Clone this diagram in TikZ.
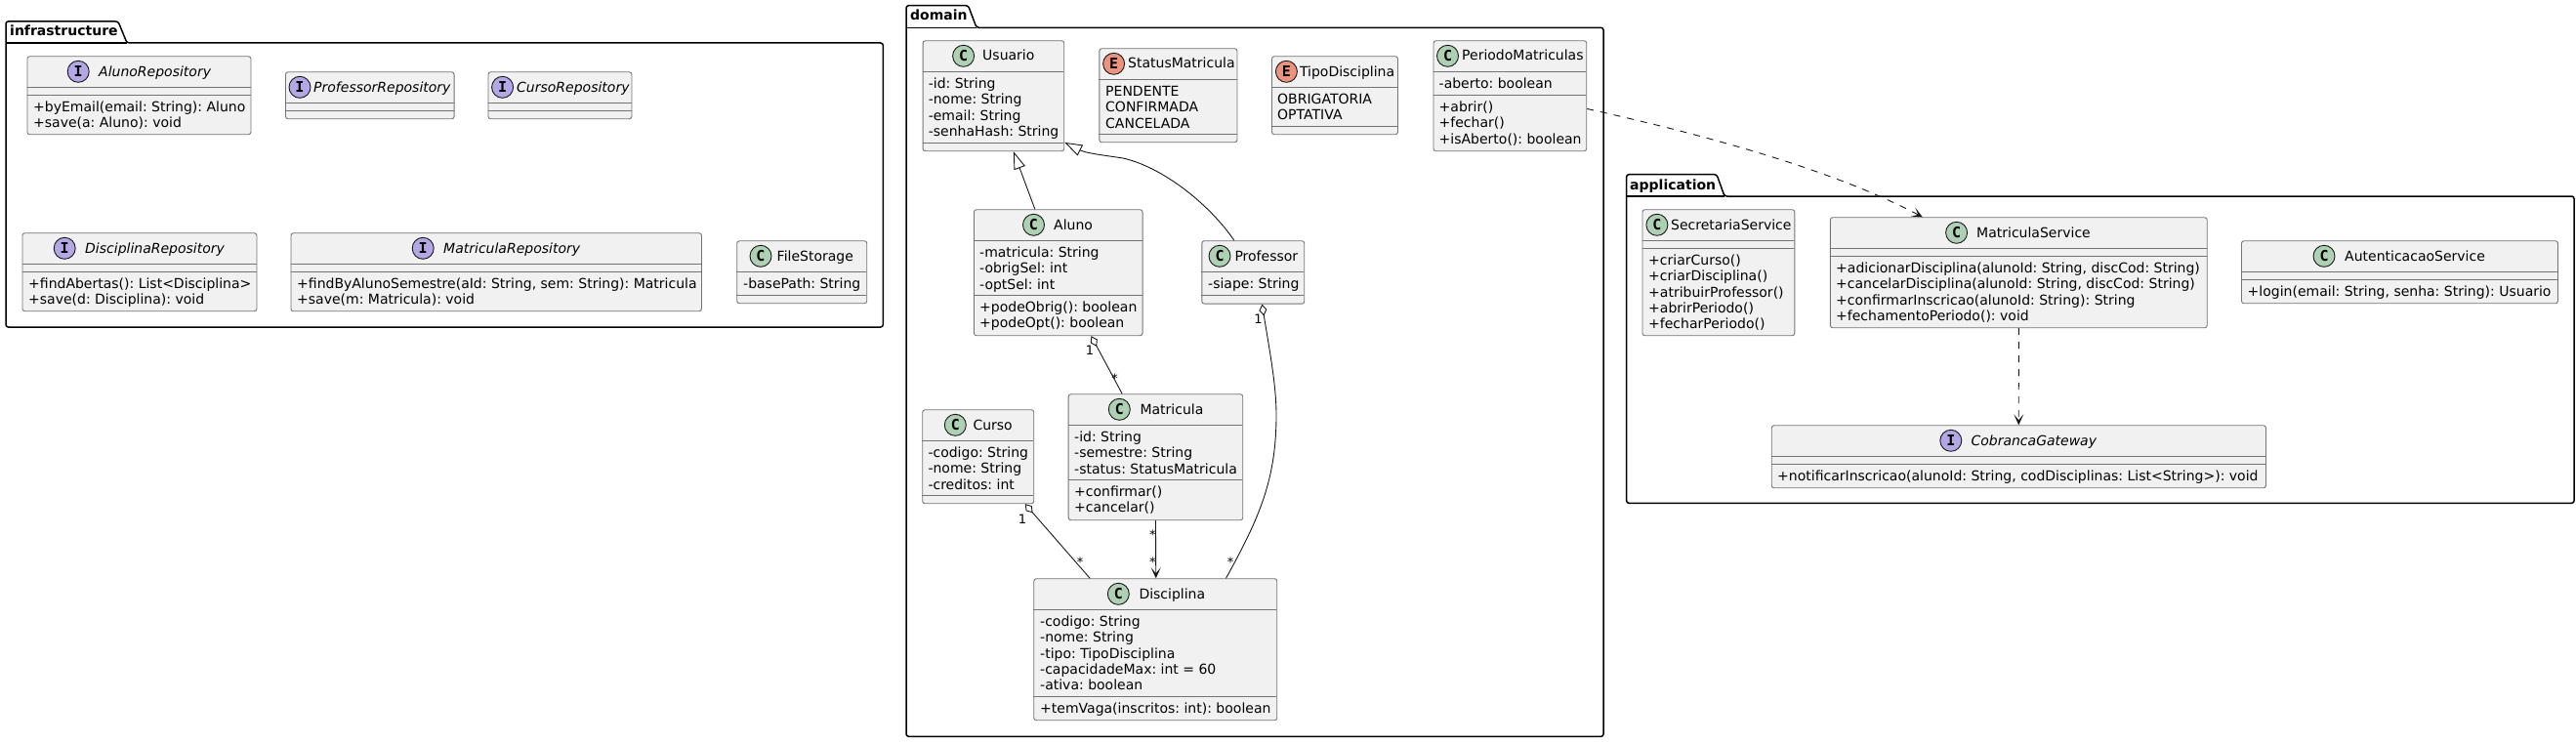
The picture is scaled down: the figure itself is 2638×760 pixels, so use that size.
\documentclass[tikz,border=0pt]{standalone}
\usepackage{fontspec}
\setmainfont{DejaVu Sans}
\newfontfamily\lettermono{DejaVu Sans Mono}[Scale=1]
\usetikzlibrary{arrows.meta}
\definecolor{boxfill}{HTML}{F1F1F1}
\definecolor{boxline}{HTML}{181818}
\definecolor{ccirc}{HTML}{ADD1B2}
\definecolor{icirc}{HTML}{B4A7E5}
\definecolor{ecirc}{HTML}{EB937F}
\tikzset{
  classbox/.style={draw=boxline!60!white,fill=boxfill,line width=0.9pt,rounded corners=2.5pt,inner sep=0pt,anchor=north west},
  sepline/.style={draw=boxline!60!white,line width=0.9pt},
  pkgline/.style={draw=black,line width=1.5pt,rounded corners=2.5pt},
  pkgtitle/.style={anchor=base west,inner sep=0pt,font=\fontsize{14}{16}\selectfont\bfseries},
  cltitle/.style={anchor=base west,inner sep=0pt,font=\fontsize{14}{16}\selectfont},
  ifacetitle/.style={anchor=base west,inner sep=0pt,font=\fontsize{14}{16}\selectfont\itshape},
  memtext/.style={anchor=north west,inner sep=0pt,align=left,font=\fontsize{14}{16.3}\selectfont},
  badge/.style={circle,draw=boxline,line width=0.9pt,minimum size=22pt,inner sep=0pt,text=black,font=\fontsize{15}{15}\lettermono\bfseries},
  cardlabel/.style={inner sep=0pt,font=\fontsize{13}{13}\selectfont},
  link/.style={draw=boxline,line width=0.9pt},
  deplink/.style={link,dash pattern=on 7pt off 7pt},
  inherit/.style={link,-{Triangle[open,fill=white,length=18pt,width=12pt]}},
  aggr/.style={link,{Diamond[open,fill=white,length=12pt,width=8pt]}-},
  openarrow/.style={-{Stealth[length=11pt,width=10pt,inset=6pt]}},
}
% name x1 y1 x2 y2
\newcommand\umlbox[5]{\node[classbox,minimum width={(#4-#2)*1pt},minimum height={(#5-#3)*1pt}] (#1) at (#2,#3) {};}
% x1 x2 y
\newcommand\sepl[3]{\draw[sepline] (#1,#3) -- (#2,#3);}
% name x sepy lines
\newcommand\members[4]{\node[memtext] (#1) at (#2,#3+4.9) {\rule{0pt}{12pt}#4};}
% name cx cy letter colour
\newcommand\umlbadge[5]{\node[badge,fill=#5] (#1) at (#2,#3) {#4};}
% name x base text
\newcommand\clsname[4]{\node[cltitle] (#1) at (#2,#3) {#4};}
\newcommand\ifcname[4]{\node[ifacetitle] (#1) at (#2,#3) {#4};}
\begin{document}
\frenchspacing
\begin{tikzpicture}[x=1pt,y=-1pt]
\useasboundingbox (0,0) rectangle (2638,760);
% ---------- packages
\draw[pkgline] (6,44) -- (6,22) -- (121,22) -- (130,44) -- (904.3,44) -- (904.3,335) -- (6,335) -- cycle;
\draw[pkgline,rounded corners=0pt] (6,44) -- (130,44);
\node[pkgtitle] (pinfra) at (10,36.7) {infrastructure};
\draw[pkgline] (928,28.3) -- (928,5.7) -- (991.5,5.7) -- (1000,28.3) -- (1642,28.3) -- (1642,754.3) -- (928,754.3) -- cycle;
\draw[pkgline,rounded corners=0pt] (928,28.3) -- (1000,28.3);
\node[pkgtitle] (pdomain) at (932,20.7) {domain};
\draw[pkgline] (1665.6,201) -- (1665.6,178.7) -- (1758,178.7) -- (1766,201) -- (2636,201) -- (2636,515.3) -- (1665.6,515.3) -- cycle;
\draw[pkgline,rounded corners=0pt] (1665.6,201) -- (1766,201);
\node[pkgtitle] (papp) at (1669,194) {application};
% ---------- infrastructure
\umlbox{AlunoRepo}{27.5}{57.3}{256.5}{137.3}
\sepl{27.5}{256.5}{89.3}\sepl{27.5}{256.5}{97.3}
\umlbadge{AlunoRepoB}{80.2}{73.3}{I}{icirc}
\ifcname{AlunoRepoT}{101}{78}{AlunoRepository}
\members{AlunoRepoM}{34}{97.3}{+byEmail(email: String): Aluno\\+save(a: Aluno): void}

\umlbox{ProfRepo}{292}{73.3}{464.6}{121.3}
\sepl{292}{464.6}{105.3}\sepl{292}{464.6}{113.3}
\umlbadge{ProfRepoB}{307}{89.3}{I}{icirc}
\ifcname{ProfRepoT}{321}{94}{ProfessorRepository}

\umlbox{CursoRepo}{499.5}{73.3}{646.5}{121.3}
\sepl{499.5}{646.5}{105.3}\sepl{499.5}{646.5}{113.3}
\umlbadge{CursoRepoB}{514.6}{89.3}{I}{icirc}
\ifcname{CursoRepoT}{529}{94}{CursoRepository}

\umlbox{DiscRepo}{22.5}{238.3}{262.5}{318.3}
\sepl{22.5}{262.5}{270.3}\sepl{22.5}{262.5}{278.3}
\umlbadge{DiscRepoB}{66.2}{254.3}{I}{icirc}
\ifcname{DiscRepoT}{87}{259}{DisciplinaRepository}
\members{DiscRepoM}{29}{278.3}{+findAbertas(): List<Disciplina>\\+save(d: Disciplina): void}

\umlbox{MatrRepo}{297.5}{238.3}{718}{318.3}
\sepl{297.5}{718}{270.3}\sepl{297.5}{718}{278.3}
\umlbadge{MatrRepoB}{433.2}{254.3}{I}{icirc}
\ifcname{MatrRepoT}{454}{259}{MatriculaRepository}
\members{MatrRepoM}{304}{278.3}{+findByAlunoSemestre(aId: String, sem: String): Matricula\\+save(m: Matricula): void}

\umlbox{FileStorage}{754.3}{246.3}{887.3}{310.3}
\sepl{754.3}{887.3}{278.3}\sepl{754.3}{887.3}{302.3}
\umlbadge{FileStorageB}{779}{262.3}{C}{ccirc}
\clsname{FileStorageT}{795.5}{267}{FileStorage}
\members{FileStorageA}{761}{278.3}{-basePath: String}
% ---------- domain
\umlbox{Usuario}{944.6}{41.3}{1089.3}{154.3}
\sepl{944.6}{1089.3}{73.3}\sepl{944.6}{1089.3}{146.3}
\umlbadge{UsuarioB}{986.6}{57.3}{C}{ccirc}
\clsname{UsuarioT}{1006}{62}{Usuario}
\members{UsuarioA}{950.6}{73.3}{-id: String\\-nome: String\\-email: String\\-senhaHash: String}

\umlbox{Status}{1125.4}{49.3}{1266.5}{145.3}
\sepl{1125.4}{1266.5}{81.3}\sepl{1125.4}{1266.5}{137.3}
\umlbadge{StatusB}{1140.6}{65.3}{E}{ecirc}
\clsname{StatusT}{1155}{70}{StatusMatricula}
\members{StatusA}{1132}{81.3}{PENDENTE\\CONFIRMADA\\CANCELADA}

\umlbox{Tipo}{1302}{57.3}{1431}{137.3}
\sepl{1302}{1431}{89.3}\sepl{1302}{1431}{129.3}
\umlbadge{TipoB}{1317.4}{73.3}{E}{ecirc}
\clsname{TipoT}{1330.8}{78}{TipoDisciplina}
\members{TipoA}{1308}{89.3}{OBRIGATORIA\\OPTATIVA}

\umlbox{Periodo}{1467.5}{41.3}{1624.3}{154.3}
\sepl{1467.5}{1624.3}{73.3}\sepl{1467.5}{1624.3}{97.3}
\umlbadge{PeriodoB}{1482.5}{57.3}{C}{ccirc}
\clsname{PeriodoT}{1497}{62}{PeriodoMatriculas}
\members{PeriodoA}{1473.5}{73.3}{-aberto: boolean}
\members{PeriodoM}{1473.5}{97.3}{+abrir()\\+fechar()\\+isAberto(): boolean}

\umlbox{Aluno}{997}{214.3}{1169.6}{343.3}
\sepl{997}{1169.6}{246.3}\sepl{997}{1169.6}{302.3}
\umlbadge{AlunoB}{1058.5}{230.3}{C}{ccirc}
\clsname{AlunoT}{1079}{235}{Aluno}
\members{AlunoA}{1003}{246.3}{-matricula: String\\-obrigSel: int\\-optSel: int}
\members{AlunoM}{1003}{302.3}{+podeObrig(): boolean\\+podeOpt(): boolean}

\umlbox{Professor}{1230.4}{246.3}{1335.3}{310.7}
\sepl{1230.4}{1335.3}{278.3}\sepl{1230.4}{1335.3}{302.3}
\umlbadge{ProfessorB}{1249}{262.3}{C}{ccirc}
\clsname{ProfessorT}{1264.3}{267}{Professor}
\members{ProfessorA}{1237}{278.3}{-siape: String}

\umlbox{Curso}{944.3}{419.3}{1058.3}{515.3}
\sepl{944.3}{1058.3}{451.3}\sepl{944.3}{1058.3}{507.3}
\umlbadge{CursoB}{978.3}{435.3}{C}{ccirc}
\clsname{CursoT}{996.3}{440}{Curso}
\members{CursoA}{950.3}{451.3}{-codigo: String\\-nome: String\\-creditos: int}

\umlbox{Matricula}{1093.7}{403.3}{1272.3}{532.3}
\sepl{1093.7}{1272.3}{435.3}\sepl{1093.7}{1272.3}{491.3}
\umlbadge{MatriculaB}{1146.3}{419.3}{C}{ccirc}
\clsname{MatriculaT}{1167.3}{424}{Matricula}
\members{MatriculaA}{1100}{435.3}{-id: String\\-semestre: String\\-status: StatusMatricula}
\members{MatriculaM}{1100}{491.3}{+confirmar()\\+cancelar()}

\umlbox{Disciplina}{1058.3}{592.3}{1307.3}{737.3}
\sepl{1058.3}{1307.3}{624.3}\sepl{1058.3}{1307.3}{713.3}
\umlbadge{DisciplinaB}{1145.3}{608.3}{C}{ccirc}
\clsname{DisciplinaT}{1166.3}{613}{Disciplina}
\members{DisciplinaA}{1065}{624.3}{-codigo: String\\-nome: String\\-tipo: TipoDisciplina\\-capacidadeMax: int = 60\\-ativa: boolean}
\members{DisciplinaM}{1065}{713.3}{+temVaga(inscritos: int): boolean}
% ---------- application
\umlbox{Secretaria}{1681.5}{214.3}{1837.4}{343.3}
\sepl{1681.5}{1837.4}{246.3}\sepl{1681.5}{1837.4}{254.3}
\umlbadge{SecretariaB}{1696.9}{230.3}{C}{ccirc}
\clsname{SecretariaT}{1711}{235}{SecretariaService}
\members{SecretariaM}{1688}{254.3}{+criarCurso()\\+criarDisciplina()\\+atribuirProfessor()\\+abrirPeriodo()\\+fecharPeriodo()}

\umlbox{MatService}{1873.9}{222.3}{2259.8}{335.3}
\sepl{1873.9}{2259.8}{254.3}\sepl{1873.9}{2259.8}{262.3}
\umlbadge{MatServiceB}{2003.6}{238.3}{C}{ccirc}
\clsname{MatServiceT}{2024}{243}{MatriculaService}
\members{MatServiceM}{1880}{262.3}{+adicionarDisciplina(alunoId: String, discCod: String)\\+cancelarDisciplina(alunoId: String, discCod: String)\\+confirmarInscricao(alunoId: String): String\\+fechamentoPeriodo(): void}

\umlbox{Autent}{2295}{246.3}{2619}{310.3}
\sepl{2295}{2619}{278.3}\sepl{2295}{2619}{286.3}
\umlbadge{AutentB}{2380}{262.3}{C}{ccirc}
\clsname{AutentT}{2401}{267}{AutenticacaoService}
\members{AutentM}{2301.5}{286.3}{+login(email: String, senha: String): Usuario}

\umlbox{Cobranca}{1813.8}{435.3}{2320}{499.3}
\sepl{1813.8}{2320}{467.3}\sepl{1813.8}{2320}{475.3}
\umlbadge{CobrancaB}{1997.8}{451.3}{I}{icirc}
\ifcname{CobrancaT}{2018.3}{456}{CobrancaGateway}
\members{CobrancaM}{1820}{475.3}{+notificarInscricao(alunoId: String, codDisciplinas: List<String>): void}
% ---------- connectors
\draw[inherit] ([xshift=-23.9pt]Aluno.north) -- ([xshift=20.5pt]Usuario.south);
\draw[inherit] ([xshift=-19.4pt]Professor.north) .. controls +(-26,-38) and +(40,9) .. (1150,162) .. controls +(-20,-3) and +(22,11) .. ([yshift=9.3pt]Usuario.south east);
\draw[aggr] ([xshift=33.7pt]Aluno.south) -- ([xshift=-34.3pt]Matricula.north);
\node[cardlabel] (c1a) at (1116,358.7) {1};
\node[cardlabel] (c1b) at (1141.5,387.5) {*};
\draw[aggr] ([xshift=9.1pt]Professor.south) .. controls +(8,49) and +(0,-30) .. (1307,425) .. controls +(0,65) and +(35,-63) .. ([xshift=72.2pt]Disciplina.north);
\node[cardlabel] (c2a) at (1288.4,327) {1};
\node[cardlabel] (c2b) at (1260,575.8) {*};
\draw[aggr] ([xshift=48pt]Curso.south) -- ([xshift=-67.1pt]Disciplina.north);
\node[cardlabel] (c3a) at (1047,532) {1};
\node[cardlabel] (c3b) at (1106,575.8) {*};
\draw[link,openarrow] (Matricula.south) -- ([xshift=0.5pt]Disciplina.north);
\node[cardlabel] (c4a) at (1180.3,547.5) {*};
\node[cardlabel] (c4b) at (1180.3,575.8) {*};
\draw[deplink,openarrow] ([yshift=-13.2pt]Periodo.east) .. controls +(76,17) and +(-108,-57) .. ([xshift=-98.5pt]MatService.north);
\draw[deplink,openarrow] (MatService.south) -- ([xshift=-0.1pt]Cobranca.north);
\end{tikzpicture}
\end{document}
